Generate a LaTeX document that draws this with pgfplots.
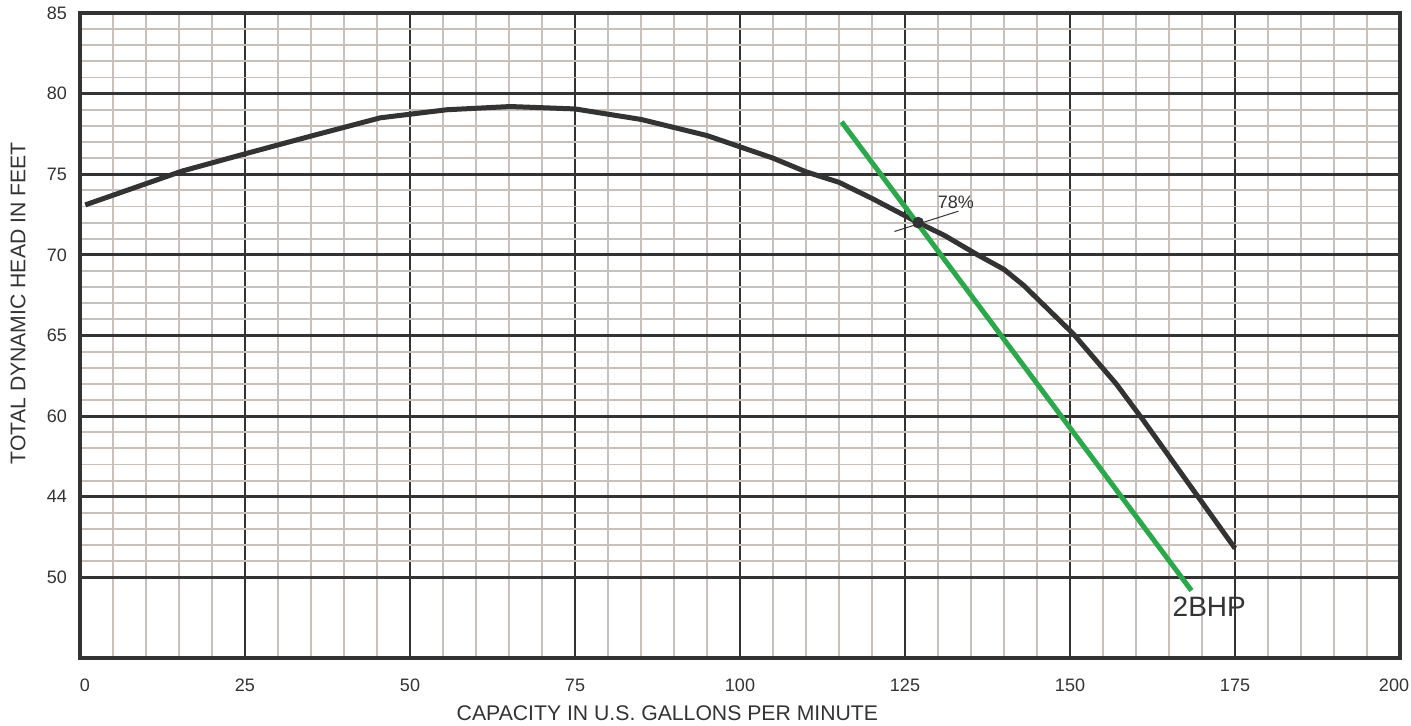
\documentclass[border=0pt]{standalone}
\usepackage{fontspec}
\setmainfont{Liberation Sans}
\usepackage{pgfplots}
\pgfplotsset{compat=1.18}
\usetikzlibrary{calc}
\definecolor{curvegray}{HTML}{333333}
\definecolor{gridminor}{HTML}{C8C0BB}
\definecolor{pumpgreen}{HTML}{2BA84A}

\begin{document}
\begin{tikzpicture}
\begin{axis}[
  scale only axis,
  width=660bp, height=322.5bp,
  xmin=0, xmax=200, ymin=45, ymax=85,
  xtick={0,25,...,200},
  xticklabels={{\rule{5bp}{0pt}0},25,50,75,100,125,150,175,{200\rule{6bp}{0pt}}},
  ytick={50,55,...,85},
  yticklabels={50,44,60,65,70,75,80,85},
  minor x tick num=4, minor y tick num=4,
  grid=both,
  major grid style={draw=curvegray, line width=1.4bp},
  minor grid style={draw=gridminor, line width=0.9bp},
  axis line style={draw=curvegray, line width=1.6bp},
  tick style={draw=none},
  /pgf/number format/assume math mode=true,
  tick label style={font=\fontsize{9bp}{10bp}\selectfont, text=curvegray},
  xticklabel style={anchor=center, yshift=-13.5bp},
  yticklabel style={xshift=-3bp},
  xlabel={CAPACITY IN U.S. GALLONS PER MINUTE},
  ylabel={TOTAL DYNAMIC HEAD IN FEET},
  label style={font=\fontsize{10.6bp}{12bp}\selectfont, text=curvegray},
  x label style={at={(axis description cs:0.445,-0.0853)}, anchor=center},
  y label style={at={(axis description cs:-0.047,0.55)}, anchor=center, rotate=0},
  clip=false,
]
% head-capacity curve
\addplot[curvegray, line width=2.5bp] coordinates {
  (0.8,73.1) (15.5,75.2) (25.3,76.3) (35.3,77.4) (45.5,78.5) (55.6,79.0)
  (65.2,79.2) (75,79.05) (85,78.4) (95,77.4) (100,76.7) (105,76.0)
  (110,75.15) (115,74.5) (120,73.5) (127,72.0) (131,71.2) (136,70.0)
  (140,69.1) (143,68.1) (150.5,65.1) (157,62.0) (161,59.8) (175,51.8)
};
% 2BHP line
\addplot[pumpgreen, line width=2.5bp] coordinates {(115.4,78.25) (168.4,49.18)};
% efficiency leader
\addplot[curvegray, line width=0.5bp] coordinates {(123.4,71.45) (133.1,72.71)};
\addplot[only marks, mark=*, mark size=2.7bp, curvegray] coordinates {(127,72.0)};
\node[font=\fontsize{9bp}{10bp}\selectfont, text=curvegray] at (axis cs:132.7,73.25) {78\%};
\node[font=\fontsize{14bp}{16bp}\selectfont, text=curvegray] at (axis cs:171.1,48.2) {2BHP};
\end{axis}
\pgfresetboundingbox
\path ($(current axis.south west)+(-40bp,-34bp)$) rectangle ($(current axis.north east)+(5.5bp,6.5bp)$);
\end{tikzpicture}
\end{document}
